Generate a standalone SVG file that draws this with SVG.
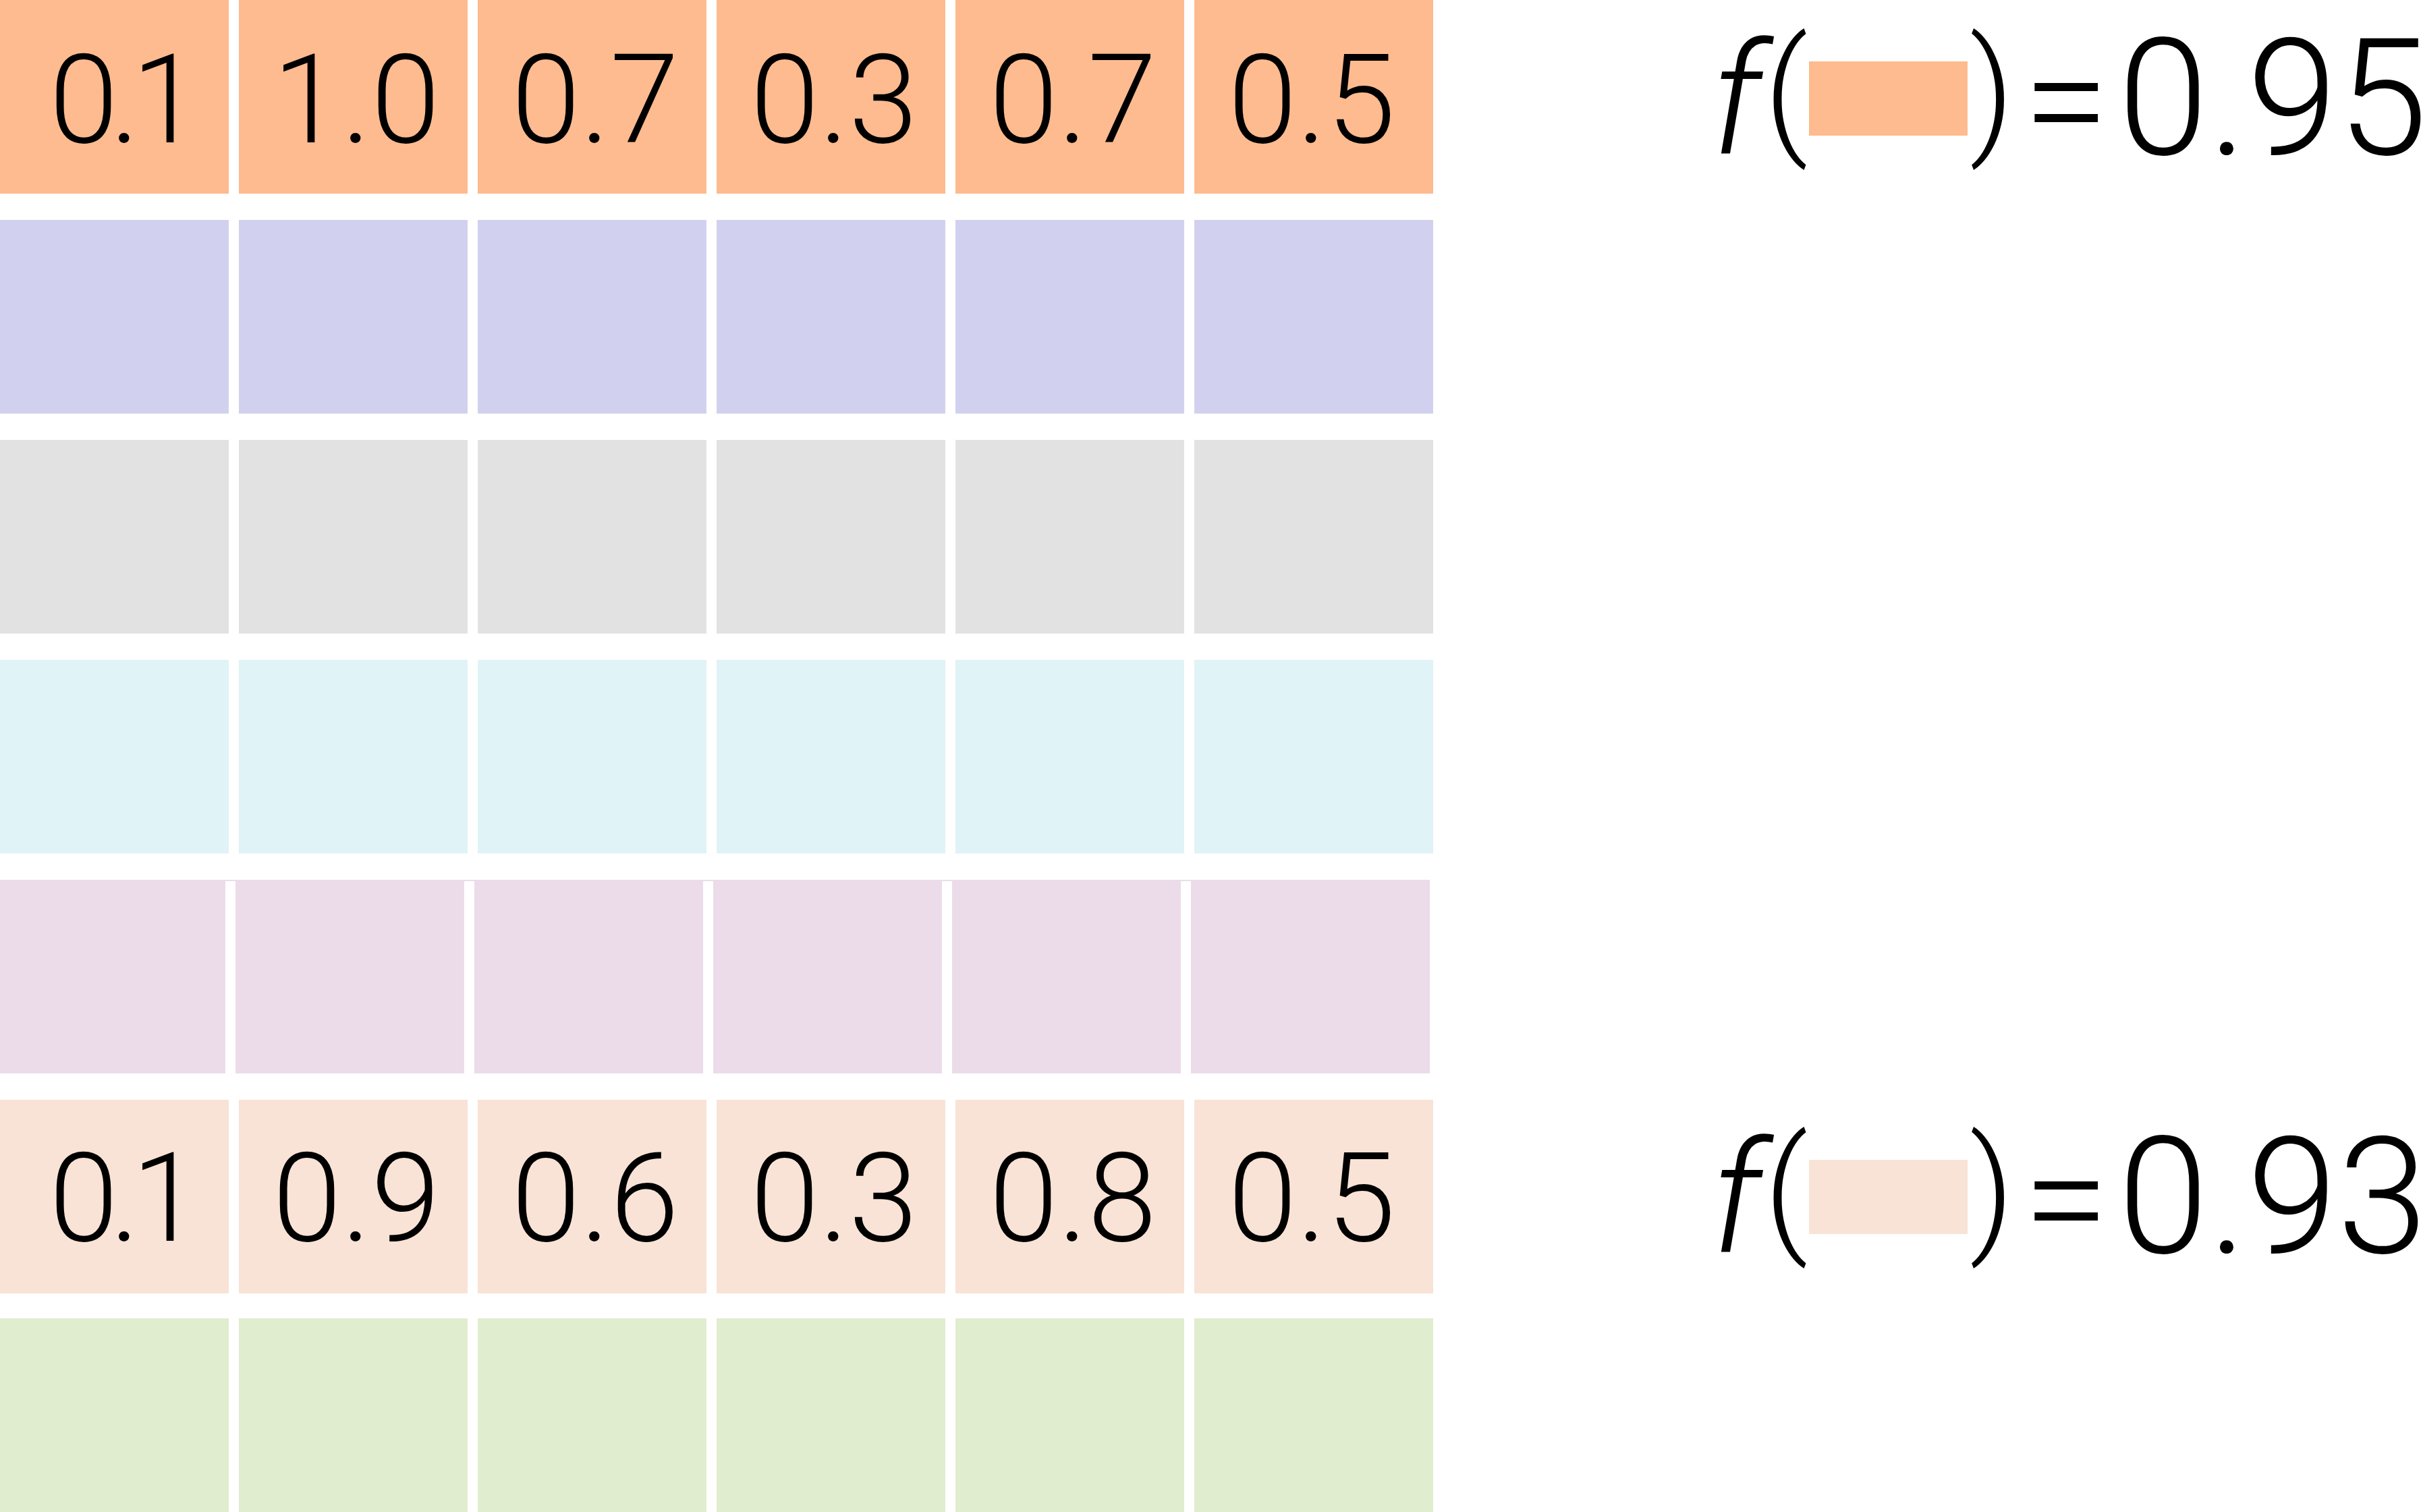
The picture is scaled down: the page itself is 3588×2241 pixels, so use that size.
<svg xmlns="http://www.w3.org/2000/svg" width="3588" height="2241" viewBox="0 0 3588 2241">
<style>
.num{font-family:Roboto,"Liberation Sans",sans-serif;font-weight:300;font-size:184px;fill:#000;text-anchor:middle}
.n01{letter-spacing:-12px}
.eq{font-family:Roboto,"Liberation Sans",sans-serif;font-weight:300;font-size:241px;fill:#000}
.tail{letter-spacing:-34px}
.eqs{font-family:Roboto,"Liberation Sans",sans-serif;font-weight:300;font-size:230px;fill:#000;text-anchor:middle}
.par{font-family:Roboto,"Liberation Sans",sans-serif;font-weight:300;font-size:204px;fill:#000;text-anchor:middle}
.fx{font-family:Roboto,"Liberation Sans",sans-serif;font-weight:300;font-style:italic;font-size:230px;fill:#000}
.r1{fill:#FDBB8F}.r2{fill:#D1D1EF}.r3{fill:#E2E2E2}.r4{fill:#E0F3F7}.r5{fill:#ECDCEA}.r6{fill:#F9E3D6}.r7{fill:#E0EDCF}
</style>
<rect width="3588" height="2241" fill="#fff"/>
<g id="row1">
<g id="r1c1"><rect class="r1" x="0" y="0" width="339" height="287"/><text class="num n01" x="179" y="211">0.1</text></g>
<g id="r1c2"><rect class="r1" x="354" y="0" width="339" height="287"/><text class="num" x="528" y="211">1.0</text></g>
<g id="r1c3"><rect class="r1" x="708" y="0" width="339" height="287"/><text class="num" x="882" y="211">0.7</text></g>
<g id="r1c4"><rect class="r1" x="1062" y="0" width="339" height="287"/><text class="num" x="1236" y="211">0.3</text></g>
<g id="r1c5"><rect class="r1" x="1416" y="0" width="339" height="287"/><text class="num" x="1590" y="211">0.7</text></g>
<g id="r1c6"><rect class="r1" x="1770" y="0" width="354" height="287"/><text class="num" x="1944" y="211">0.5</text></g>
</g>
<g id="row2">
<rect id="r2c1" class="r2" x="0" y="326" width="339" height="287"/>
<rect id="r2c2" class="r2" x="354" y="326" width="339" height="287"/>
<rect id="r2c3" class="r2" x="708" y="326" width="339" height="287"/>
<rect id="r2c4" class="r2" x="1062" y="326" width="339" height="287"/>
<rect id="r2c5" class="r2" x="1416" y="326" width="339" height="287"/>
<rect id="r2c6" class="r2" x="1770" y="326" width="354" height="287"/>
</g>
<g id="row3">
<rect id="r3c1" class="r3" x="0" y="652" width="339" height="287"/>
<rect id="r3c2" class="r3" x="354" y="652" width="339" height="287"/>
<rect id="r3c3" class="r3" x="708" y="652" width="339" height="287"/>
<rect id="r3c4" class="r3" x="1062" y="652" width="339" height="287"/>
<rect id="r3c5" class="r3" x="1416" y="652" width="339" height="287"/>
<rect id="r3c6" class="r3" x="1770" y="652" width="354" height="287"/>
</g>
<g id="row4">
<rect id="r4c1" class="r4" x="0" y="978" width="339" height="287"/>
<rect id="r4c2" class="r4" x="354" y="978" width="339" height="287"/>
<rect id="r4c3" class="r4" x="708" y="978" width="339" height="287"/>
<rect id="r4c4" class="r4" x="1062" y="978" width="339" height="287"/>
<rect id="r4c5" class="r4" x="1416" y="978" width="339" height="287"/>
<rect id="r4c6" class="r4" x="1770" y="978" width="354" height="287"/>
</g>
<g id="row5">
<rect class="r5" x="0" y="1304" width="2119" height="2"/>
<rect id="r5c1" class="r5" x="0" y="1304" width="334" height="287"/>
<rect id="r5c2" class="r5" x="349" y="1304" width="339" height="287"/>
<rect id="r5c3" class="r5" x="703" y="1304" width="339" height="287"/>
<rect id="r5c4" class="r5" x="1057" y="1304" width="339" height="287"/>
<rect id="r5c5" class="r5" x="1411" y="1304" width="339" height="287"/>
<rect id="r5c6" class="r5" x="1765" y="1304" width="354" height="287"/>
</g>
<g id="row6">
<g id="r6c1"><rect class="r6" x="0" y="1630" width="339" height="287"/><text class="num n01" x="179" y="1839">0.1</text></g>
<g id="r6c2"><rect class="r6" x="354" y="1630" width="339" height="287"/><text class="num" x="528" y="1839">0.9</text></g>
<g id="r6c3"><rect class="r6" x="708" y="1630" width="339" height="287"/><text class="num" x="882" y="1839">0.6</text></g>
<g id="r6c4"><rect class="r6" x="1062" y="1630" width="339" height="287"/><text class="num" x="1236" y="1839">0.3</text></g>
<g id="r6c5"><rect class="r6" x="1416" y="1630" width="339" height="287"/><text class="num" x="1590" y="1839">0.8</text></g>
<g id="r6c6"><rect class="r6" x="1770" y="1630" width="354" height="287"/><text class="num" x="1944" y="1839">0.5</text></g>
</g>
<g id="row7">
<rect id="r7c1" class="r7" x="0" y="1954" width="339" height="287"/>
<rect id="r7c2" class="r7" x="354" y="1954" width="339" height="287"/>
<rect id="r7c3" class="r7" x="708" y="1954" width="339" height="287"/>
<rect id="r7c4" class="r7" x="1062" y="1954" width="339" height="287"/>
<rect id="r7c5" class="r7" x="1416" y="1954" width="339" height="287"/>
<rect id="r7c6" class="r7" x="1770" y="1954" width="354" height="287"/>
</g>
<g id="eq1">
<text class="fx" x="2536" y="228">f</text>
<text class="par" x="2647" y="205">(</text>
<rect class="r1" x="2681" y="91" width="235" height="110"/>
<text class="par" x="2952" y="205">)</text>
<text class="eqs" x="3062" y="228">=</text>
<text class="eq" x="3139" y="229">0.9<tspan class="tail">5</tspan></text>
</g>
<g id="eq2">
<text class="fx" x="2536" y="1856">f</text>
<text class="par" x="2647" y="1833">(</text>
<rect class="r6" x="2681" y="1719" width="235" height="110"/>
<text class="par" x="2952" y="1833">)</text>
<text class="eqs" x="3062" y="1856">=</text>
<text class="eq" x="3139" y="1857">0.9<tspan class="tail">3</tspan></text>
</g>
</svg>
